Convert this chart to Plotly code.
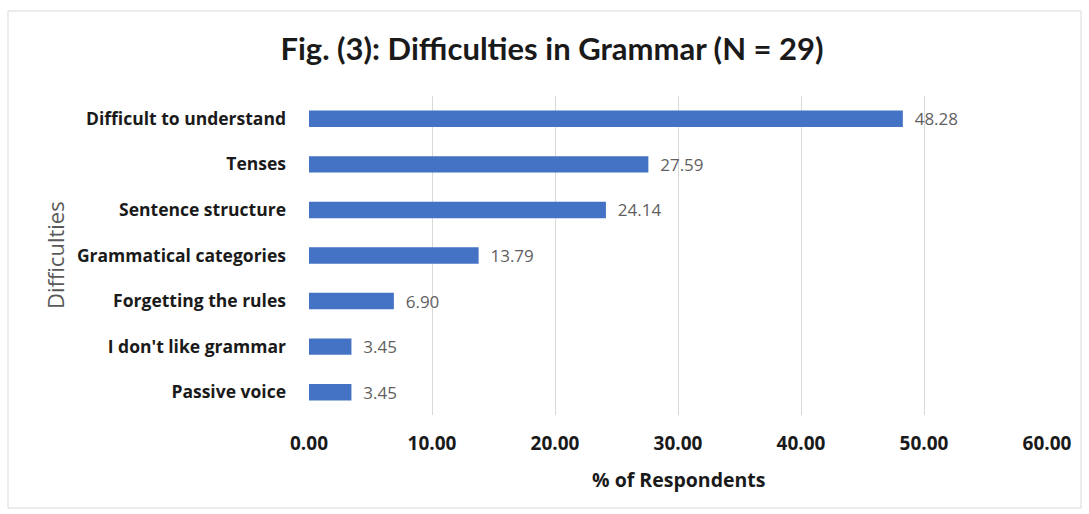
import plotly.graph_objects as go

# Survey results: share of respondents reporting each grammar difficulty
categories = [
    "Difficult to understand",
    "Tenses",
    "Sentence structure",
    "Grammatical categories",
    "Forgetting the rules",
    "I don't like grammar",
    "Passive voice",
]
percentages = [48.28, 27.59, 24.14, 13.79, 6.90, 3.45, 3.45]
tick_values = [0, 10, 20, 30, 40, 50, 60]
tick_labels = ["0.00", "10.00", "20.00", "30.00", "40.00", "50.00", "60.00"]

FONT = "'Open Sans', Lato, sans-serif"
TITLE_FONT = "Lato, 'Open Sans', sans-serif"
BAR_COLOR = "#4472C4"
GRID_COLOR = "#D9D9D9"

W, H = 1089, 514
L, R, T, B = 309, 42, 96, 99
plot_w = W - L - R
plot_h = H - T - B


def px_to_paper_x(px):
    return (px - L) / plot_w


def px_to_paper_y(py):
    return (H - B - py) / plot_h


fig = go.Figure(
    go.Bar(
        x=percentages,
        y=categories,
        orientation="h",
        width=0.36,
        marker=dict(color=BAR_COLOR, line=dict(width=0)),
        texttemplate="  %{x:.2f}",
        textposition="outside",
        constraintext="none",
        textfont=dict(family=FONT, size=17, color="#5f5f5f"),
        cliponaxis=False,
    )
)

fig.update_layout(
    width=W,
    height=H,
    margin=dict(l=L, r=R, t=T, b=B),
    paper_bgcolor="white",
    plot_bgcolor="white",
    showlegend=False,
    title=dict(
        text="<b>Fig. (3): Difficulties in Grammar (N = 29)</b>",
        x=552 / W,
        xanchor="center",
        y=1 - 49 / H,
        yanchor="middle",
        font=dict(family=TITLE_FONT, size=31, color="#1a1a1a"),
    ),
    xaxis=dict(
        range=[0, 60],
        tickmode="array",
        tickvals=tick_values,
        ticktext=[f"<b>{t}</b>" for t in tick_labels],
        tickfont=dict(family=FONT, size=19, color="#1a1a1a"),
        showgrid=True,
        gridcolor=GRID_COLOR,
        gridwidth=1,
        zeroline=False,
        showline=False,
        ticks="",
        ticklabelstandoff=15,
        fixedrange=True,
    ),
    yaxis=dict(
        categoryorder="array",
        categoryarray=list(reversed(categories)),
        tickmode="array",
        tickvals=categories,
        ticktext=[f"<b>{c}</b>" for c in categories],
        tickfont=dict(family=FONT, size=17.5, color="#1a1a1a"),
        showgrid=False,
        zeroline=False,
        showline=False,
        ticks="",
        ticklabelstandoff=22,
        fixedrange=True,
    ),
    annotations=[
        dict(
            text="<b>% of Respondents</b>",
            xref="paper", yref="paper",
            x=0.5, y=px_to_paper_y(479),
            xanchor="center", yanchor="middle",
            showarrow=False,
            font=dict(family=FONT, size=19.5, color="#1a1a1a"),
        ),
        dict(
            text="Difficulties",
            xref="paper", yref="paper",
            x=px_to_paper_x(55), y=px_to_paper_y(255),
            xanchor="center", yanchor="middle",
            textangle=-90,
            showarrow=False,
            font=dict(family=FONT, size=22, color="#595959"),
        ),
    ],
    shapes=[
        dict(
            type="rect",
            xref="paper", yref="paper",
            x0=px_to_paper_x(8), x1=px_to_paper_x(1081),
            y0=px_to_paper_y(508), y1=px_to_paper_y(11),
            line=dict(color="#D9D9D9", width=1),
            fillcolor="rgba(0,0,0,0)",
            layer="below",
        )
    ],
)

fig.write_html("out.html")
